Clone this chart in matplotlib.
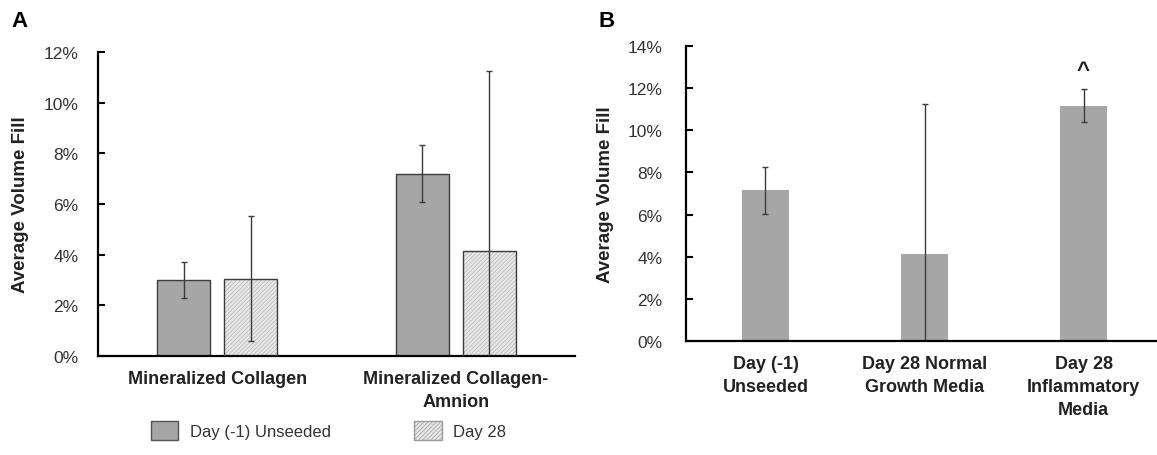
import matplotlib.pyplot as plt
import numpy as np
from matplotlib.patches import Patch

plt.rcParams['font.family'] = ['Liberation Sans', 'DejaVu Sans']

# Panel A data (percent)
groups_a = ['Mineralized Collagen', 'Mineralized Collagen-\nAmnion']
series_a = ['Day (-1) Unseeded', 'Day 28']
unseeded_a = [3.0, 7.2]
unseeded_err_a = [0.7, 1.12]
day28_a = [3.05, 4.15]
day28_err_a = [2.47, 7.1]
yticks_a = [0, 2, 4, 6, 8, 10, 12]

# Panel B data (percent)
groups_b = ['Day (-1)\nUnseeded', 'Day 28 Normal\nGrowth Media', 'Day 28\nInflammatory\nMedia']
values_b = [7.15, 4.14, 11.17]
err_b = [1.12, 7.1, 0.8]
marks_b = ['', '', '^']
yticks_b = [0, 2, 4, 6, 8, 10, 12, 14]

dark = '#3c3c3c'
mid = '#a6a6a6'
light = '#e6e6e6'
hatch_col = '#b4b4b4'

plt.rcParams['hatch.linewidth'] = 0.45

fig = plt.figure(figsize=(11.57, 4.56), dpi=100)
ax_a = fig.add_axes([0.0847, 0.2171, 0.4123, 0.6667])
ax_b = fig.add_axes([0.5929, 0.25, 0.4123, 0.647])


def style_axes(ax, ticks, pad):
    for s in ['top', 'right']:
        ax.spines[s].set_visible(False)
    for s in ['left', 'bottom']:
        ax.spines[s].set_linewidth(1.6)
        ax.spines[s].set_color('black')
    ax.set_yticks(ticks)
    ax.set_yticklabels([f'{t}%' for t in ticks], fontsize=12.5, color='#333333')
    ax.tick_params(axis='y', direction='in', length=5, width=1.5, pad=pad)
    ax.tick_params(axis='x', length=0, pad=10)
    ax.set_ylabel('Average Volume Fill', fontsize=13.5, fontweight='bold', color='#222222')
    for lab in ax.get_xticklabels():
        lab.set_linespacing(1.45)


# ---- Panel A ----
x = np.arange(len(groups_a))
w = 0.222
off = 0.14
ebk = dict(ecolor=dark, elinewidth=1.0, capsize=2, capthick=1.0)

ax_a.bar(x - off, unseeded_a, w, color=mid, edgecolor=dark, linewidth=1.0,
         yerr=unseeded_err_a, error_kw=ebk, zorder=2)
ax_a.bar(x + off, day28_a, w, color=light, edgecolor=hatch_col, linewidth=0,
         hatch='////////', zorder=2)
ax_a.bar(x + off, day28_a, w, color='none', edgecolor=dark, linewidth=1.0,
         yerr=day28_err_a, error_kw=ebk, zorder=3)

ax_a.set_xlim(-0.5, 1.5)
ax_a.set_ylim(0, 12)
ax_a.set_xticks(x)
ax_a.set_xticklabels(groups_a, fontsize=13, fontweight='bold', color='#222222')
style_axes(ax_a, yticks_a, 14)
ax_a.yaxis.set_label_coords(-0.145, 0.5)

handles = [Patch(facecolor=mid, edgecolor='#555555', linewidth=1.0, label=series_a[0]),
           Patch(facecolor=light, edgecolor='#999999', hatch='////////', linewidth=1.0,
                 label=series_a[1])]
fig.legend(handles=handles, loc='center', bbox_to_anchor=(0.284, 0.053), ncol=2,
           frameon=False, fontsize=12, handlelength=1.65, handleheight=1.35,
           columnspacing=5.0, handletextpad=0.7, labelcolor='#333333')

fig.text(0.010, 0.952, 'A', fontsize=16, fontweight='bold', va='center')

# ---- Panel B ----
xb = np.arange(len(groups_b))
ax_b.bar(xb, values_b, 0.30, color=mid, edgecolor='none',
         yerr=err_b, error_kw=ebk, zorder=2)
for xi, v, e, m in zip(xb, values_b, err_b, marks_b):
    if m:
        ax_b.text(xi, v + e + 0.85, m, ha='center', va='center', fontsize=16,
                  fontweight='bold', color='#222222')

ax_b.set_xlim(-0.5, 2.5)
ax_b.set_ylim(0, 14)
ax_b.set_xticks(xb)
ax_b.set_xticklabels(groups_b, fontsize=13, fontweight='bold', color='#222222')
style_axes(ax_b, yticks_b, 17)
ax_b.yaxis.set_label_coords(-0.15, 0.5)

fig.text(0.517, 0.952, 'B', fontsize=16, fontweight='bold', va='center')

fig.savefig('out.png', dpi=100, facecolor='white')
